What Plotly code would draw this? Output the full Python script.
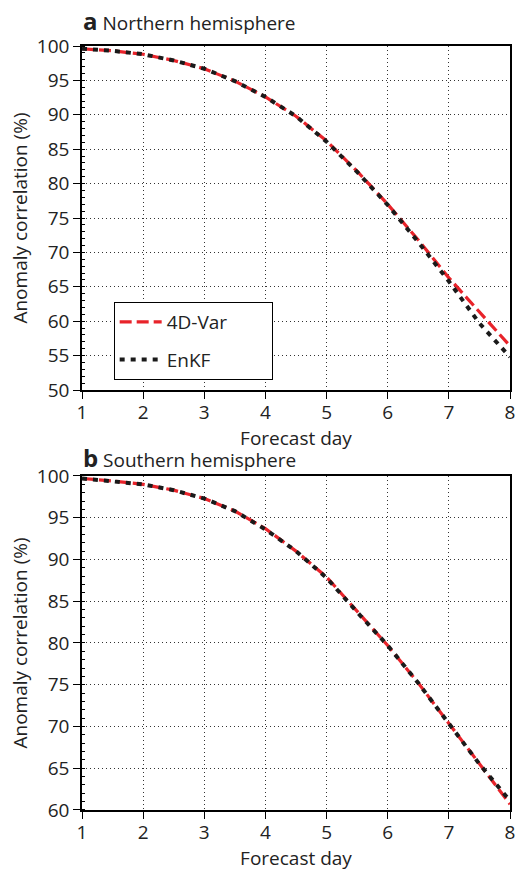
import plotly.graph_objects as go

days = [1, 1.5, 2, 2.5, 3, 3.5, 4, 4.5, 5, 5.5, 6, 6.5, 7, 7.5, 8]

nh_4dvar = [99.6, 99.3, 98.8, 97.9, 96.7, 94.9, 92.6, 89.8, 86.2, 81.8, 77.0, 71.8, 66.3, 61.3, 56.4]
nh_enkf = [99.6, 99.3, 98.8, 97.9, 96.7, 94.9, 92.6, 89.8, 86.1, 81.7, 76.9, 71.5, 65.8, 59.7, 54.8]

sh_4dvar = [99.7, 99.4, 99.0, 98.3, 97.3, 95.8, 93.7, 91.0, 87.9, 83.8, 79.7, 75.2, 70.4, 65.6, 60.7]
sh_enkf = [99.7, 99.4, 99.0, 98.3, 97.3, 95.8, 93.6, 91.0, 87.8, 83.7, 79.7, 75.2, 70.3, 65.5, 61.1]

x_ticks = [1, 2, 3, 4, 5, 6, 7, 8]
series_names = ["4D-Var", "EnKF"]
legend_pad = "\u00a0" * 8
panel_titles = ["<b><span style='font-size:24px'>a</span></b> Northern hemisphere",
                "<b><span style='font-size:24px'>b</span></b> Southern hemisphere"]

RED = "#e8232a"
BLACK = "#1a1a1a"
FONT = "Open Sans"
FS = 19

fig = go.Figure()

# panel a (top)
fig.add_trace(go.Scatter(x=days, y=nh_4dvar, mode="lines", name=series_names[0] + legend_pad,
                         line=dict(color=RED, width=3.2, dash="12px,5px"),
                         xaxis="x", yaxis="y", legendgroup="g1"))
fig.add_trace(go.Scatter(x=days, y=nh_enkf, mode="lines", name=series_names[1] + legend_pad,
                         line=dict(color=BLACK, width=4, dash="5px,6px"),
                         xaxis="x", yaxis="y", legendgroup="g2"))
# panel b (bottom)
fig.add_trace(go.Scatter(x=days, y=sh_4dvar, mode="lines", name=series_names[0],
                         line=dict(color=RED, width=3.2, dash="12px,5px"),
                         xaxis="x2", yaxis="y2", showlegend=False))
fig.add_trace(go.Scatter(x=days, y=sh_enkf, mode="lines", name=series_names[1],
                         line=dict(color=BLACK, width=4, dash="5px,6px"),
                         xaxis="x2", yaxis="y2", showlegend=False))

axis_common = dict(
    showline=True, linecolor="black", linewidth=1.5, mirror=True,
    ticks="outside", ticklen=7, tickwidth=1.2, tickcolor="black",
    showgrid=True, gridcolor="#333333", gridwidth=1, griddash="1px,3px",
    zeroline=False, tickfont=dict(size=FS, color="#222", family=FONT),
)

xaxis_common = dict(axis_common, range=[1, 8], tickvals=x_ticks, ticklabelstandoff=-3,
                    title=dict(text="Forecast day", font=dict(size=FS, color="#222", family=FONT), standoff=0))

yaxis_common = dict(axis_common, dtick=5, automargin=False,
                    minor=dict(ticks="inside", ticklen=3, dtick=1, tickcolor="black", showgrid=False),
                    title=dict(text="Anomaly correlation (%)", font=dict(size=FS, color="#222", family=FONT), standoff=4))

fig.update_layout(
    width=527, height=872,
    margin=dict(l=82, r=14, t=46, b=62),
    paper_bgcolor="white", plot_bgcolor="white",
    font=dict(family=FONT, size=FS, color="#222"),
    xaxis=dict(xaxis_common, domain=[0, 1], anchor="y"),
    yaxis=dict(yaxis_common, domain=[0.5497, 1], range=[50, 100], anchor="x"),
    xaxis2=dict(xaxis_common, domain=[0, 1], anchor="y2"),
    yaxis2=dict(yaxis_common, domain=[0, 0.4372], range=[60, 100], anchor="x2"),
    legend=dict(x=0.074, y=0.665, xanchor="left", yanchor="top",
                bordercolor="black", borderwidth=1, bgcolor="white",
                font=dict(size=FS, family=FONT, color="#222"),
                tracegroupgap=10, itemwidth=42),
    showlegend=True,
)

fig.add_annotation(text=panel_titles[0], xref="paper", yref="paper", x=-0.002, y=1.034,
                   xanchor="left", yanchor="middle", showarrow=False,
                   font=dict(size=FS, family=FONT, color="#222"))
fig.add_annotation(text=panel_titles[1], xref="paper", yref="paper", x=-0.002, y=0.462,
                   xanchor="left", yanchor="middle", showarrow=False,
                   font=dict(size=FS, family=FONT, color="#222"))

fig.write_html("out.html")
